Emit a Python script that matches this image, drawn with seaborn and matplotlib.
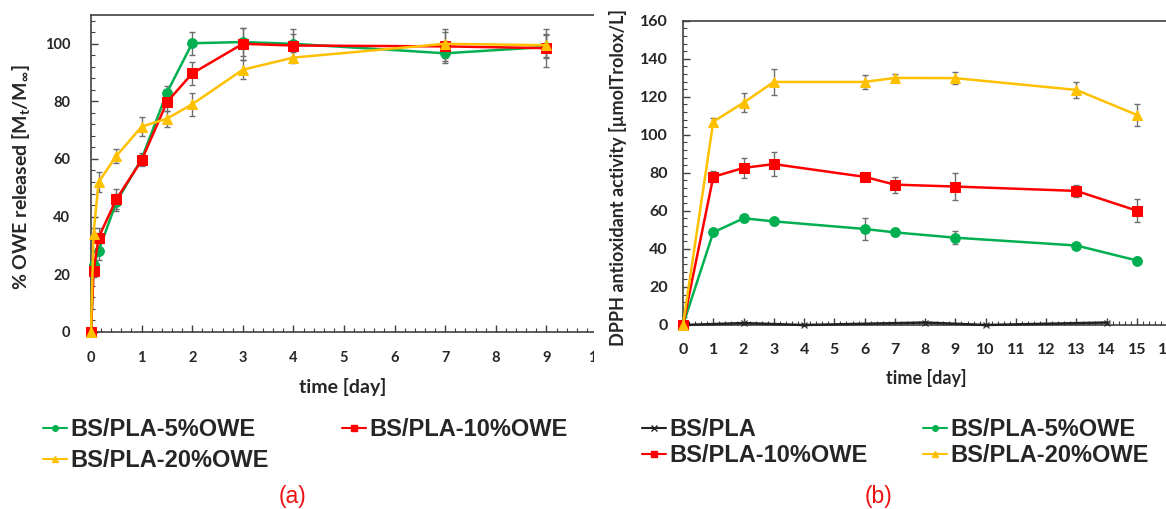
import matplotlib
matplotlib.use("Agg")
import matplotlib.pyplot as plt
import seaborn as sns
import numpy as np
import pandas as pd
from matplotlib.lines import Line2D
from matplotlib.patches import Rectangle
from matplotlib.ticker import MultipleLocator

# ---------------- data (a) ----------------
t_a = [0, 0.05, 0.15, 0.5, 1, 1.5, 2, 3, 4, 7, 9]
rel_5 = [0, 23, 28, 45, 60, 83, 100.2, 100.6, 100, 96.7, 98.9]
rel_10 = [0, 21, 32.7, 46, 59.5, 79.7, 89.7, 100, 99.4, 99.1, 98.5]
rel_20 = [0, 34, 52, 61, 71.2, 74, 79, 91, 95.2, 100, 99.5]
rel_5_err = [0, 2, 3, 3, 2, 2.4, 4, 5, 5, 3.5, 4]
rel_10_err = [0, 2, 3.4, 3.4, 2, 3, 4, 5.5, 4, 5, 6.5]
rel_20_err = [0, 2, 3.5, 2.4, 3.4, 2.8, 4, 3.3, 1.9, 5, 4]

# ---------------- data (b) ----------------
t_b = [0, 1, 2, 3, 6, 7, 9, 13, 15]
dpph_5 = [0, 48.7, 56.1, 54.5, 50.5, 48.7, 45.9, 41.8, 33.9]
dpph_10 = [0, 77.9, 82.6, 84.6, 77.9, 73.8, 72.8, 70.5, 60.1]
dpph_20 = [0, 106.9, 116.9, 127.8, 127.8, 129.9, 129.8, 123.6, 110.4]
dpph_5_err = [0, 1, 2, 2, 6, 2, 3.4, 1, 2]
dpph_10_err = [0, 2.9, 5.2, 6.2, 2, 4.2, 7.2, 3.2, 6]
dpph_20_err = [0, 2, 5, 7, 3.8, 2, 3.3, 4.2, 6]
t_pla = [0, 2, 4, 8, 10, 14]
dpph_pla = [0, 1.0, 0.0, 1.3, 0.0, 1.3]
dpph_pla_err = [0, 0.5, 0.5, 0.5, 0.5, 0.5]

lab_pla = "BS/PLA"
lab_5 = "BS/PLA-5%OWE"
lab_10 = "BS/PLA-10%OWE"
lab_20 = "BS/PLA-20%OWE"

GREEN = "#00B050"
RED = "#FF0000"
YELLOW = "#FFC000"
BLACK = "#222222"
ERR = "#6e6e6e"
SPINE = "#404040"

sns.set_style("white")
plt.rcParams["font.family"] = ["Lato", "DejaVu Sans"]
plt.rcParams["mathtext.fontset"] = "custom"
plt.rcParams["mathtext.rm"] = "Lato"
plt.rcParams["mathtext.bf"] = "Lato:bold"

W, H = 1166, 509
fig = plt.figure(figsize=(W / 100, H / 100), dpi=100)

# axes positions in pixels
ax_a = fig.add_axes([91 / W, 1 - 331.7 / H, (597 - 91) / W, (331.7 - 15) / H])
ax_b = fig.add_axes([683 / W, 1 - 325 / H, (1167.3 - 683) / W, (325 - 20.7) / H])


def draw(ax, x, y, err, color, marker, ms, label):
    df = pd.DataFrame({"x": x, "y": y})
    ax.errorbar(x, y, yerr=err, fmt="none", ecolor=ERR, elinewidth=1.0,
                capsize=2.5, capthick=1.0, zorder=2, clip_on=False)
    sns.lineplot(data=df, x="x", y="y", ax=ax, color=color, marker=marker,
                 markersize=ms, markeredgecolor=color, linewidth=1.8,
                 sort=False, legend=False, zorder=3, clip_on=False, label=label)


def style_ticks(ax, labelsize, ypad, xpad):
    ax.tick_params(axis="both", which="both", bottom=True, left=True,
                   top=False, right=False, direction="in", color=SPINE)
    ax.tick_params(axis="both", which="major", length=5, width=1,
                   labelsize=labelsize)
    ax.tick_params(axis="both", which="minor", length=3, width=0.8)
    ax.tick_params(axis="y", which="major", pad=ypad)
    ax.tick_params(axis="x", which="major", pad=xpad)
    for lbl in ax.get_xticklabels() + ax.get_yticklabels():
        lbl.set_fontweight("bold")


# ---------- panel (a) ----------
draw(ax_a, t_a, rel_5, rel_5_err, GREEN, "o", 7, lab_5)
draw(ax_a, t_a, rel_10, rel_10_err, RED, "s", 7.5, lab_10)
draw(ax_a, t_a, rel_20, rel_20_err, YELLOW, "^", 7.5, lab_20)
ax_a.set_xlim(0, 10)
ax_a.set_ylim(0, 110)
ax_a.xaxis.set_major_locator(MultipleLocator(1))
ax_a.xaxis.set_minor_locator(MultipleLocator(0.2))
ax_a.set_yticks([0, 20, 40, 60, 80, 100])
ax_a.yaxis.set_minor_locator(MultipleLocator(4))
style_ticks(ax_a, 10.5, 15, 14)
ax_a.set_xlabel("time [day]", fontsize=14, fontweight="bold")
ax_a.set_ylabel(r"% OWE released [M$_{\mathbf{t}}$/M$_{\mathbf{\infty}}$]",
                fontsize=14, fontweight="bold")
ax_a.xaxis.set_label_coords(0.498, -0.174)
ax_a.xaxis.label.set_va("center")
ax_a.yaxis.set_label_coords(-0.137, 0.489)
ax_a.yaxis.label.set_va("center")

# ---------- panel (b) ----------
draw(ax_b, t_pla, dpph_pla, dpph_pla_err, BLACK, "x", 5, lab_pla)
draw(ax_b, t_b, dpph_5, dpph_5_err, GREEN, "o", 7, lab_5)
draw(ax_b, t_b, dpph_10, dpph_10_err, RED, "s", 7.5, lab_10)
draw(ax_b, t_b, dpph_20, dpph_20_err, YELLOW, "^", 7.5, lab_20)
ax_b.set_xlim(0, 16)
ax_b.set_ylim(0, 160)
ax_b.xaxis.set_major_locator(MultipleLocator(1))
ax_b.xaxis.set_minor_locator(MultipleLocator(0.2))
ax_b.yaxis.set_major_locator(MultipleLocator(20))
ax_b.yaxis.set_minor_locator(MultipleLocator(4))
style_ticks(ax_b, 11.5, 11, 13)
ax_b.set_xlabel("time [day]", fontsize=13, fontweight="bold")
ax_b.set_ylabel("DPPH antioxidant activity [µmolTrolox/L]", fontsize=13,
                fontweight="bold")
ax_b.xaxis.set_label_coords(0.502, -0.174)
ax_b.xaxis.label.set_va("center")
ax_b.yaxis.set_label_coords(-0.134, 0.486)
ax_b.yaxis.label.set_va("center")

for ax in (ax_a, ax_b):
    for s in ax.spines.values():
        s.set_color(SPINE)
        s.set_linewidth(1.2)
        s.set_visible(True)

# mask: the left panel image is cropped at its right edge
fig.add_artist(Rectangle((594 / W, 0.25), 14 / W, 0.75, transform=fig.transFigure,
                         facecolor="white", edgecolor="none", zorder=20))


# ---------- legends ----------
def handle(color, marker, label):
    return Line2D([0], [0], color=color, marker=marker, markersize=4,
                  markeredgecolor=color, linewidth=1.5, label=label)


LEG_FS = 17
leg_kw = dict(frameon=False, loc="upper left", borderpad=0, borderaxespad=0,
              handlelength=1.02, handletextpad=0.15,
              prop={"family": "Liberation Sans", "weight": "bold", "size": LEG_FS})
top = 1 - 418.5 / H
fig.legend(handles=[handle(GREEN, "o", lab_5), handle(YELLOW, "^", lab_20)],
           bbox_to_anchor=(43 / W, top), labelspacing=0.32, **leg_kw)
fig.legend(handles=[handle(RED, "s", lab_10)],
           bbox_to_anchor=(342 / W, top), labelspacing=0.32, **leg_kw)
fig.legend(handles=[handle(BLACK, "x", lab_pla), handle(RED, "s", lab_10)],
           bbox_to_anchor=(642 / W, top), labelspacing=0.11, **leg_kw)
fig.legend(handles=[handle(GREEN, "o", lab_5), handle(YELLOW, "^", lab_20)],
           bbox_to_anchor=(923 / W, top), labelspacing=0.11, **leg_kw)

fig.text(292 / W, 1 - 496.7 / H, "(a)", color="#EE1111", fontsize=16.5,
         family="Liberation Sans", ha="center", va="center")
fig.text(878 / W, 1 - 496.7 / H, "(b)", color="#EE1111", fontsize=16.5,
         family="Liberation Sans", ha="center", va="center")

fig.savefig("out.png", dpi=100, facecolor="white")
